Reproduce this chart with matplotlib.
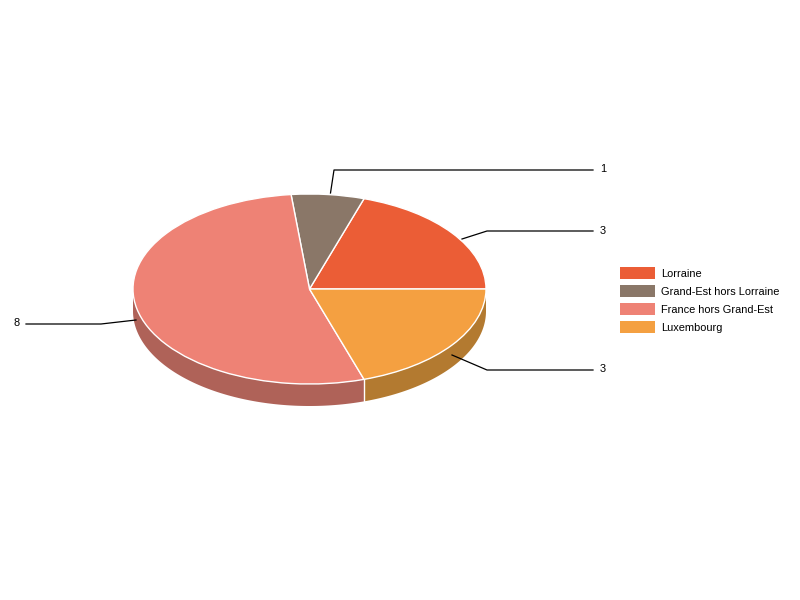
import numpy as np
import matplotlib

matplotlib.use("Agg")
import matplotlib.pyplot as plt
from matplotlib.patches import Rectangle
from matplotlib.transforms import Affine2D

categories = ["Lorraine", "Grand-Est hors Lorraine", "France hors Grand-Est", "Luxembourg"]
values = [3, 1, 8, 3]
top_colors = ["#EB5D36", "#8A7768", "#EE8275", "#F4A041"]
side_colors = ["#A54227", "#615349", "#AF6258", "#B37A30"]

plt.rcParams["font.family"] = ["Liberation Sans", "DejaVu Sans"]

CX, CY = 309.5, 289
RX, RY = 176.5, 95
DEPTH = 22 / RY

fig = plt.figure(figsize=(8, 6), dpi=100)
ax = fig.add_axes([0, 0, 1, 1])

wedges, _ = ax.pie(
    values,
    colors=top_colors,
    startangle=0,
    counterclock=True,
    center=(0, 0),
    radius=1,
    frame=True,
    wedgeprops={"edgecolor": "white", "linewidth": 1, "zorder": 3},
)
ax.set_aspect("auto")
# pixel-fitted limits, the pie is squashed into an ellipse by the axes
ax.set_xlim(-CX / RX, (800 - CX) / RX)
ax.set_ylim((CY - 600) / RY, CY / RY)
ax.axis("off")

# side wall, only the part facing the viewer
edges = np.cumsum([0] + values) / sum(values) * 360
for i, color in enumerate(side_colors):
    a0, a1 = max(edges[i], 180), edges[i + 1]
    if a1 <= a0:
        continue
    t = np.radians(np.linspace(a0, a1, 120))
    xs = np.concatenate([np.cos(t), np.cos(t[::-1])])
    ys = np.concatenate([np.sin(t), np.sin(t[::-1]) - DEPTH])
    ax.fill(xs, ys, color=color, lw=0, zorder=2)
    if a0 > 180:
        ax.plot([np.cos(t[0])] * 2, [np.sin(t[0]), np.sin(t[0]) - DEPTH],
                color="white", lw=1, zorder=2.5)

# leader lines and labels are placed in image pixels
px = Affine2D().scale(1, -1).translate(0, 600)
leaders = [
    ([462, 487, 593], [239, 231, 231], 600, 230.5),
    ([330.5, 334, 593], [193, 170, 170], 600, 169.5),
    ([136, 101, 26], [320, 324, 324], 14, 323.5),
    ([452, 487, 593], [355, 370, 370], 600, 369.5),
]
for (xs, ys, tx, ty), v in zip(leaders, values):
    ax.plot(xs, ys, color="black", lw=0.9, transform=px, zorder=4,
            clip_on=False, snap=False)
    ax.text(tx, ty, str(v), transform=px, fontsize=7.9, color="black",
            ha="left", va="center", zorder=5)

# legend drawn by hand so the swatches land on the same pixels
for i, (name, color) in enumerate(zip(categories, top_colors)):
    y = 267 + 18 * i
    ax.add_patch(Rectangle((620, y), 35, 12, facecolor=color, edgecolor="none",
                           transform=px, zorder=5))
    ax.text(660.7, y + 7, name, transform=px, fontsize=7.95, color="black",
            ha="left", va="center", zorder=5)

fig.savefig("out.png", dpi=100)
